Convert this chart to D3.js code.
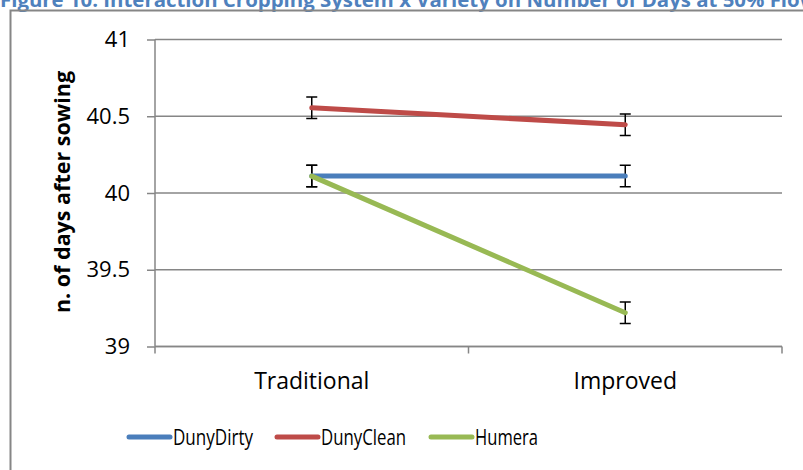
<!DOCTYPE html>
<html>
<head>
<meta charset="utf-8">
<script src="https://cdn.jsdelivr.net/npm/d3@7"></script>
<style>
  body { margin: 0; background: #fff; }
  svg { display: block; }
</style>
</head>
<body>
<div id="visualization"></div>
<script>
(() => {
  let categories = ['Traditional', 'Improved']
  let seriesNames = ['DunyDirty', 'DunyClean', 'Humera']
  let dunyDirty = [40.11, 40.11]
  let dunyClean = [40.555, 40.445]
  let humera = [40.11, 39.22]
  let errors = [0.07, 0.07]
  let yTicks = [39, 39.5, 40, 40.5, 41]
  let colors = ['#4A7EBB', '#BE4B48', '#98B954']

  let allSeries = [dunyDirty, dunyClean, humera]

  let width = 803
  let height = 470
  let font = 'Open Sans, sans-serif'

  let svg = d3.select('#visualization')
    .append('svg')
      .attr('width', width)
      .attr('height', height)

  // title, cut off at top and right like the source
  svg.append('text')
    .attr('x', 0)
    .attr('y', 7)
    .attr('fill', '#4F81BD')
    .attr('font-family', font)
    .attr('font-weight', 'bold')
    .attr('font-size', 20.4)
    .text('Figure 10: Interaction Cropping System x Variety on Number of Days at 50% Flowering')

  // chart frame (only left & top visible)
  svg.append('path')
    .attr('d', 'M10.5,' + height + 'V10.5H' + width)
    .attr('fill', 'none')
    .attr('stroke', '#868686')
    .attr('stroke-width', 2)

  let left = 155
  let right = 782
  let top = 39.5
  let bottom = 346.5

  let xScale = d3.scaleBand()
    .domain(categories)
    .range([left, right])

  let yScale = d3.scaleLinear()
    .domain([39, 41])
    .range([bottom, top])

  // gridlines
  svg.append('g')
    .selectAll('line')
    .data(yTicks)
    .enter()
    .append('line')
      .attr('x1', left)
      .attr('x2', right)
      .attr('y1', (d) => yScale(d))
      .attr('y2', (d) => yScale(d))
      .attr('stroke', '#868686')
      .attr('stroke-width', 1.5)

  // y axis
  let yAxis = svg.append('g')
    .attr('transform', 'translate(' + left + ',0)')
    .call(d3.axisLeft(yScale).tickValues(yTicks).tickSize(8).tickPadding(17)
      .tickFormat((d) => d))
  yAxis.selectAll('line, path').attr('stroke', '#868686').attr('stroke-width', 1.5)
  yAxis.select('.domain').attr('d', 'M0,' + top + 'V' + bottom)
  yAxis.selectAll('text')
    .attr('font-family', font)
    .attr('font-size', 22)
    .attr('fill', '#000')

  // x axis
  let xAxis = svg.append('g')
    .attr('transform', 'translate(0,' + bottom + ')')
    .call(d3.axisBottom(xScale).tickSize(0).tickPadding(26))
  xAxis.select('.domain').attr('stroke', '#868686').attr('stroke-width', 1.5)
    .attr('d', 'M' + left + ',0H' + right)
  xAxis.selectAll('text')
    .attr('font-family', font)
    .attr('font-size', 23)
    .attr('fill', '#000')

  // x ticks at band edges
  let edges = [left, left + xScale.bandwidth(), right]
  svg.append('g')
    .selectAll('line')
    .data(edges)
    .enter()
    .append('line')
      .attr('x1', (d) => d)
      .attr('x2', (d) => d)
      .attr('y1', bottom)
      .attr('y2', bottom + 7)
      .attr('stroke', '#868686')
      .attr('stroke-width', 1.5)

  let xCenter = (c) => xScale(c) + xScale.bandwidth() / 2

  // error bars
  let errG = svg.append('g')
  allSeries.forEach((values) => {
    values.forEach((v, i) => {
      let x = xCenter(categories[i])
      let y0 = yScale(v + errors[i])
      let y1 = yScale(v - errors[i])
      errG.append('path')
        .attr('d', 'M' + x + ',' + y0 + 'V' + y1 +
          'M' + (x - 5.5) + ',' + y0 + 'H' + (x + 5.5) +
          'M' + (x - 5.5) + ',' + y1 + 'H' + (x + 5.5))
        .attr('fill', 'none')
        .attr('stroke', '#000')
        .attr('stroke-width', 1.5)
    })
  })

  // series lines
  let line = d3.line()
    .x((d, i) => xCenter(categories[i]))
    .y((d) => yScale(d))

  svg.append('g')
    .selectAll('path')
    .data(allSeries)
    .enter()
    .append('path')
      .attr('d', (d) => line(d))
      .attr('fill', 'none')
      .attr('stroke', (d, i) => colors[i])
      .attr('stroke-width', 5)
      .attr('stroke-linecap', 'round')

  // y title
  svg.append('text')
    .attr('transform', 'translate(70,192) rotate(-90)')
    .attr('text-anchor', 'middle')
    .attr('font-family', font)
    .attr('font-weight', 'bold')
    .attr('font-size', 21.5)
    .text('n. of days after sowing')

  // legend
  let legendX = [129, 277, 431]
  let legendW = [80, 85, 63]
  let legend = svg.append('g')
    .selectAll('g')
    .data(seriesNames)
    .enter()
    .append('g')
      .attr('transform', (d, i) => 'translate(' + legendX[i] + ',437)')
  legend.append('line')
    .attr('x1', 0)
    .attr('x2', 41)
    .attr('stroke', (d, i) => colors[i])
    .attr('stroke-width', 5)
    .attr('stroke-linecap', 'round')
  legend.append('text')
    .attr('x', 44)
    .attr('y', 8)
    .attr('font-family', font)
    .attr('font-size', 22)
    .attr('textLength', (d, i) => legendW[i])
    .attr('lengthAdjust', 'spacingAndGlyphs')
    .text((d) => d)
})()
</script>
</body>
</html>
